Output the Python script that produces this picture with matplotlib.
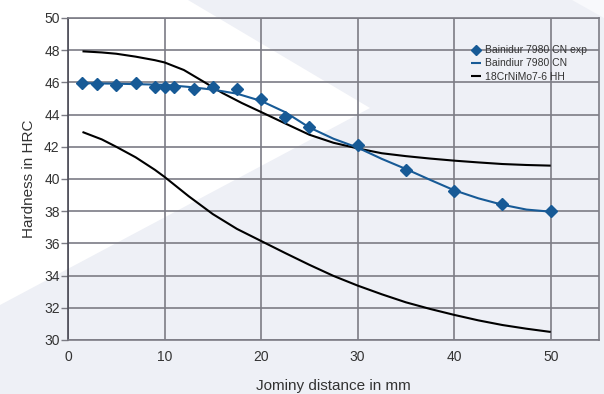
import matplotlib.pyplot as plt
from matplotlib.patches import Polygon

# measured Jominy hardness, Bainidur 7980 CN
exp_x = [1.5, 3, 5, 7, 9, 10, 11, 13, 15, 17.5, 20, 22.5, 25, 30, 35, 40, 45, 50]
exp_y = [45.98, 45.91, 45.85, 45.95, 45.73, 45.72, 45.72, 45.62, 45.73, 45.6,
         44.94, 43.84, 43.24, 42.12, 40.58, 39.23, 38.44, 38.03]

# calculated curve, Bainidur 7980 CN
fit_x = [1.5, 5, 10, 12.5, 15, 17.5, 20, 22.5, 25, 27.5, 30, 32.5, 35, 37.5, 40, 42.5, 45, 47.5, 50]
fit_y = [45.95, 45.92, 45.85, 45.72, 45.55, 45.3, 44.85, 44.15, 43.2, 42.5, 41.95,
         41.25, 40.62, 39.95, 39.3, 38.8, 38.4, 38.1, 37.97]

# 18CrNiMo7-6 HH scatter band, upper limit
hi_x = [1.5, 3.5, 5, 7, 9, 10, 12, 14, 16, 18, 20, 22.5, 25, 27.5, 30, 32.5, 35, 37.5, 40,
        42.5, 45, 47.5, 50]
hi_y = [47.93, 47.86, 47.78, 47.6, 47.38, 47.24, 46.77, 46.06, 45.34, 44.72, 44.16, 43.45,
        42.75, 42.25, 41.9, 41.6, 41.42, 41.27, 41.14, 41.03, 40.93, 40.87, 40.83]

# 18CrNiMo7-6 HH scatter band, lower limit
lo_x = [1.5, 3.5, 5, 7, 9, 10, 12.5, 15, 17.5, 20, 22.5, 25, 27.5, 30, 32.5, 35, 37.5, 40,
        42.5, 45, 47.5, 50]
lo_y = [42.92, 42.46, 42.0, 41.35, 40.57, 40.13, 38.93, 37.82, 36.9, 36.15, 35.4, 34.67,
        33.98, 33.38, 32.84, 32.34, 31.93, 31.56, 31.22, 30.93, 30.7, 30.5]

BLUE = "#175a96"
TXT = "#333333"
GRID = "#7c7c85"
W, H = 604, 394

plt.rcParams["font.family"] = ["Liberation Sans", "DejaVu Sans"]

fig = plt.figure(figsize=(W / 100, H / 100), dpi=100)
fig.patch.set_facecolor("#eef0f6")


def px(pts):
    return [(x / W, 1 - y / H) for x, y in pts]


# white decorative shapes behind the chart
fig.patches.append(Polygon(px([(0, 0), (188, 0), (370, 108), (0, 305)]), closed=True,
                           transform=fig.transFigure, facecolor="white", edgecolor="none", zorder=-1))
fig.patches.append(Polygon(px([(572, 0), (604, 0), (604, 18)]), closed=True,
                           transform=fig.transFigure, facecolor="#f8f9fc", edgecolor="none", zorder=-1))

ax = fig.add_axes([68 / W, 1 - 340 / H, (599 - 68) / W, (340 - 18) / H])
ax.set_facecolor("none")
ax.set_zorder(2)

line_kw = dict(lw=1.5, solid_joinstyle="round", solid_capstyle="butt")
ax.plot(hi_x, hi_y, color="black", label="18CrNiMo7-6 HH", zorder=3, **line_kw)
ax.plot(lo_x, lo_y, color="black", zorder=3, **line_kw)
ax.plot(fit_x, fit_y, color=BLUE, label="Baindiur 7980 CN", zorder=4, **line_kw)
ax.plot(exp_x, exp_y, linestyle="none", marker="D", ms=6, color=BLUE,
        label="Bainidur 7980 CN exp", zorder=5)

ax.set_xlim(0, 55)
ax.set_ylim(30, 50)
ax.set_xticks(range(0, 51, 10))
ax.set_yticks(range(30, 51, 2))
ax.grid(True, color=GRID, lw=1.2)
ax.set_axisbelow(True)
for side in ["top", "right", "bottom"]:
    ax.spines[side].set_color(GRID)
    ax.spines[side].set_linewidth(1.2)
ax.spines["left"].set_color("#4a4a55")
ax.spines["left"].set_linewidth(1.2)

ax.tick_params(axis="y", length=5, width=1, color=GRID, pad=1, labelsize=10, labelcolor=TXT)
ax.tick_params(axis="x", length=0, pad=7, labelsize=10, labelcolor=TXT)

ax.set_xlabel("Jominy distance in mm", fontsize=11, color=TXT, labelpad=11)
ax.set_ylabel("Hardness in HRC", fontsize=11, color=TXT, labelpad=6)

handles, labels = ax.get_legend_handles_labels()
order = [2, 1, 0]
ax.legend([handles[i] for i in order], [labels[i] for i in order],
          loc="upper left", bbox_to_anchor=(462 / W, 1 - 36 / H), bbox_transform=fig.transFigure,
          frameon=False, fontsize=7.5, handlelength=0.9, handletextpad=0.4,
          labelspacing=0.3, markerscale=0.8, labelcolor=TXT)

fig.savefig("out.png", dpi=100)
